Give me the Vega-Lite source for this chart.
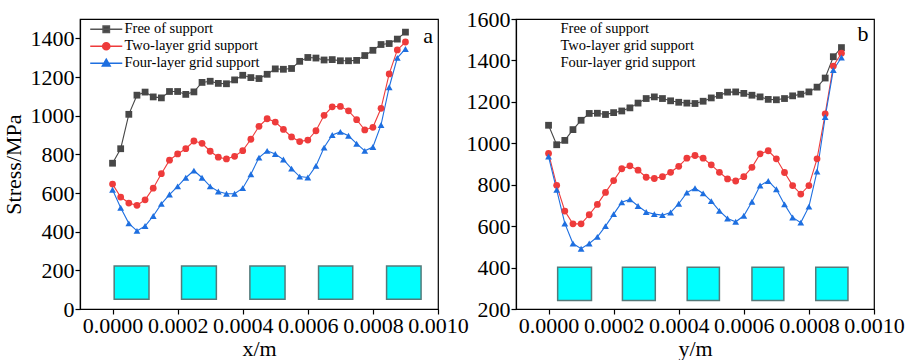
{
  "$schema": "https://vega.github.io/schema/vega-lite/v6.json",
  "autosize": {"type": "pad"},
  "padding": {"left": 1, "top": 7, "right": 0, "bottom": 0},
  "background": "white",
  "config": {
    "font": "Liberation Serif",
    "view": {"stroke": "black", "strokeWidth": 1.2},
    "axis": {"labelFont": "Liberation Serif", "labelFontSize": 22, "labelColor": "black", "titleFont": "Liberation Serif", "titleFontSize": 22, "titleFontWeight": "normal", "titleColor": "black", "domainColor": "black", "domainWidth": 1.2, "tickColor": "black", "tickSize": 5, "tickWidth": 1.2, "grid": false, "labelPadding": 1, "labelFlush": false, "labelOverlap": false},
    "legend": {"labelFont": "Liberation Serif", "labelFontSize": 14.5, "labelColor": "black"}
  },
  "datasets": {
    "left": [
      {"x": 0.0, "Free of support": 754, "Two-layer grid support": 646, "Four-layer grid support": 617},
      {"x": 0.000025, "Free of support": 829, "Two-layer grid support": 579, "Four-layer grid support": 524},
      {"x": 0.00005, "Free of support": 1007, "Two-layer grid support": 548, "Four-layer grid support": 443},
      {"x": 0.000075, "Free of support": 1106, "Two-layer grid support": 536, "Four-layer grid support": 404},
      {"x": 0.0001, "Free of support": 1122, "Two-layer grid support": 565, "Four-layer grid support": 429},
      {"x": 0.000125, "Free of support": 1097, "Two-layer grid support": 625, "Four-layer grid support": 481},
      {"x": 0.00015, "Free of support": 1092, "Two-layer grid support": 700, "Four-layer grid support": 544},
      {"x": 0.000175, "Free of support": 1125, "Two-layer grid support": 770, "Four-layer grid support": 592},
      {"x": 0.0002, "Free of support": 1125, "Two-layer grid support": 802, "Four-layer grid support": 634},
      {"x": 0.000225, "Free of support": 1110, "Two-layer grid support": 829, "Four-layer grid support": 679},
      {"x": 0.00025, "Free of support": 1123, "Two-layer grid support": 869, "Four-layer grid support": 716},
      {"x": 0.000275, "Free of support": 1172, "Two-layer grid support": 857, "Four-layer grid support": 679},
      {"x": 0.0003, "Free of support": 1178, "Two-layer grid support": 816, "Four-layer grid support": 634},
      {"x": 0.000325, "Free of support": 1167, "Two-layer grid support": 785, "Four-layer grid support": 608},
      {"x": 0.00035, "Free of support": 1165, "Two-layer grid support": 776, "Four-layer grid support": 596},
      {"x": 0.000375, "Free of support": 1185, "Two-layer grid support": 790, "Four-layer grid support": 596},
      {"x": 0.0004, "Free of support": 1209, "Two-layer grid support": 819, "Four-layer grid support": 625},
      {"x": 0.000425, "Free of support": 1197, "Two-layer grid support": 878, "Four-layer grid support": 697},
      {"x": 0.00045, "Free of support": 1192, "Two-layer grid support": 945, "Four-layer grid support": 783},
      {"x": 0.000475, "Free of support": 1214, "Two-layer grid support": 984, "Four-layer grid support": 818},
      {"x": 0.0005, "Free of support": 1242, "Two-layer grid support": 967, "Four-layer grid support": 802},
      {"x": 0.000525, "Free of support": 1240, "Two-layer grid support": 929, "Four-layer grid support": 773},
      {"x": 0.00055, "Free of support": 1244, "Two-layer grid support": 890, "Four-layer grid support": 726},
      {"x": 0.000575, "Free of support": 1281, "Two-layer grid support": 866, "Four-layer grid support": 685},
      {"x": 0.0006, "Free of support": 1301, "Two-layer grid support": 874, "Four-layer grid support": 680},
      {"x": 0.000625, "Free of support": 1298, "Two-layer grid support": 922, "Four-layer grid support": 740},
      {"x": 0.00065, "Free of support": 1288, "Two-layer grid support": 1002, "Four-layer grid support": 835},
      {"x": 0.000675, "Free of support": 1290, "Two-layer grid support": 1046, "Four-layer grid support": 900},
      {"x": 0.0007, "Free of support": 1284, "Two-layer grid support": 1048, "Four-layer grid support": 916},
      {"x": 0.000725, "Free of support": 1284, "Two-layer grid support": 1025, "Four-layer grid support": 896},
      {"x": 0.00075, "Free of support": 1286, "Two-layer grid support": 979, "Four-layer grid support": 855},
      {"x": 0.000775, "Free of support": 1311, "Two-layer grid support": 926, "Four-layer grid support": 818},
      {"x": 0.0008, "Free of support": 1338, "Two-layer grid support": 940, "Four-layer grid support": 838},
      {"x": 0.000825, "Free of support": 1368, "Two-layer grid support": 1038, "Four-layer grid support": 952},
      {"x": 0.00085, "Free of support": 1373, "Two-layer grid support": 1216, "Four-layer grid support": 1147},
      {"x": 0.000875, "Free of support": 1396, "Two-layer grid support": 1340, "Four-layer grid support": 1299},
      {"x": 0.0009, "Free of support": 1432, "Two-layer grid support": 1381, "Four-layer grid support": 1345}
    ],
    "right": [
      {"x": 0.0, "Free of support": 1087, "Two-layer grid support": 951, "Four-layer grid support": 936},
      {"x": 0.000025, "Free of support": 993, "Two-layer grid support": 797, "Four-layer grid support": 775},
      {"x": 0.00005, "Free of support": 1014, "Two-layer grid support": 673, "Four-layer grid support": 613},
      {"x": 0.000075, "Free of support": 1066, "Two-layer grid support": 611, "Four-layer grid support": 516},
      {"x": 0.0001, "Free of support": 1111, "Two-layer grid support": 611, "Four-layer grid support": 491},
      {"x": 0.000125, "Free of support": 1144, "Two-layer grid support": 655, "Four-layer grid support": 516},
      {"x": 0.00015, "Free of support": 1145, "Two-layer grid support": 705, "Four-layer grid support": 548},
      {"x": 0.000175, "Free of support": 1139, "Two-layer grid support": 763, "Four-layer grid support": 600},
      {"x": 0.0002, "Free of support": 1148, "Two-layer grid support": 820, "Four-layer grid support": 658},
      {"x": 0.000225, "Free of support": 1156, "Two-layer grid support": 877, "Four-layer grid support": 715},
      {"x": 0.00025, "Free of support": 1171, "Two-layer grid support": 891, "Four-layer grid support": 729},
      {"x": 0.000275, "Free of support": 1194, "Two-layer grid support": 870, "Four-layer grid support": 697},
      {"x": 0.0003, "Free of support": 1216, "Two-layer grid support": 836, "Four-layer grid support": 668},
      {"x": 0.000325, "Free of support": 1224, "Two-layer grid support": 830, "Four-layer grid support": 658},
      {"x": 0.00035, "Free of support": 1216, "Two-layer grid support": 839, "Four-layer grid support": 653},
      {"x": 0.000375, "Free of support": 1205, "Two-layer grid support": 860, "Four-layer grid support": 666},
      {"x": 0.0004, "Free of support": 1198, "Two-layer grid support": 889, "Four-layer grid support": 708},
      {"x": 0.000425, "Free of support": 1194, "Two-layer grid support": 928, "Four-layer grid support": 762},
      {"x": 0.00045, "Free of support": 1192, "Two-layer grid support": 941, "Four-layer grid support": 783},
      {"x": 0.000475, "Free of support": 1203, "Two-layer grid support": 928, "Four-layer grid support": 758},
      {"x": 0.0005, "Free of support": 1219, "Two-layer grid support": 896, "Four-layer grid support": 721},
      {"x": 0.000525, "Free of support": 1231, "Two-layer grid support": 860, "Four-layer grid support": 674},
      {"x": 0.00055, "Free of support": 1247, "Two-layer grid support": 828, "Four-layer grid support": 637},
      {"x": 0.000575, "Free of support": 1248, "Two-layer grid support": 818, "Four-layer grid support": 621},
      {"x": 0.0006, "Free of support": 1241, "Two-layer grid support": 839, "Four-layer grid support": 650},
      {"x": 0.000625, "Free of support": 1232, "Two-layer grid support": 884, "Four-layer grid support": 718},
      {"x": 0.00065, "Free of support": 1224, "Two-layer grid support": 949, "Four-layer grid support": 796},
      {"x": 0.000675, "Free of support": 1212, "Two-layer grid support": 964, "Four-layer grid support": 818},
      {"x": 0.0007, "Free of support": 1210, "Two-layer grid support": 925, "Four-layer grid support": 778},
      {"x": 0.000725, "Free of support": 1216, "Two-layer grid support": 859, "Four-layer grid support": 705},
      {"x": 0.00075, "Free of support": 1229, "Two-layer grid support": 796, "Four-layer grid support": 642},
      {"x": 0.000775, "Free of support": 1237, "Two-layer grid support": 755, "Four-layer grid support": 617},
      {"x": 0.0008, "Free of support": 1248, "Two-layer grid support": 796, "Four-layer grid support": 694},
      {"x": 0.000825, "Free of support": 1271, "Two-layer grid support": 925, "Four-layer grid support": 864},
      {"x": 0.00085, "Free of support": 1315, "Two-layer grid support": 1142, "Four-layer grid support": 1127},
      {"x": 0.000875, "Free of support": 1418, "Two-layer grid support": 1373, "Four-layer grid support": 1354},
      {"x": 0.0009, "Free of support": 1462, "Two-layer grid support": 1435, "Four-layer grid support": 1414}
    ],
    "squaresLeft": [
      {"x1": 0.000005, "x2": 0.000112, "y1": 50, "y2": 223},
      {"x1": 0.000212, "x2": 0.000319, "y1": 50, "y2": 223},
      {"x1": 0.000422, "x2": 0.00053, "y1": 50, "y2": 223},
      {"x1": 0.000633, "x2": 0.000738, "y1": 50, "y2": 223},
      {"x1": 0.000842, "x2": 0.000948, "y1": 50, "y2": 223}
    ],
    "squaresRight": [
      {"x1": 0.000028, "x2": 0.000132, "y1": 241, "y2": 402},
      {"x1": 0.000227, "x2": 0.000328, "y1": 241, "y2": 402},
      {"x1": 0.000426, "x2": 0.000525, "y1": 241, "y2": 402},
      {"x1": 0.000625, "x2": 0.000723, "y1": 241, "y2": 402},
      {"x1": 0.000821, "x2": 0.00092, "y1": 241, "y2": 402}
    ],
    "labelA": [{"x": 0.00097, "y": 1410, "t": "a"}],
    "labelB": [{"x": 0.000966, "y": 1530, "t": "b"}]
  },
  "hconcat": [
    {
      "width": 358,
      "height": 290,
      "resolve": {"scale": {"color": "independent", "shape": "independent", "stroke": "independent"}},
      "layer": [
        {
          "data": {"name": "squaresLeft"},
          "mark": {"type": "rect", "fill": "#00FFFF", "stroke": "#557a7a", "strokeWidth": 1.5},
          "encoding": {
            "x": {"field": "x1", "type": "quantitative", "scale": {"domain": [-0.0001, 0.001], "nice": false, "zero": false}, "axis": {"values": [0, 0.0002, 0.0004, 0.0006, 0.0008, 0.001], "format": ".4f", "title": "x/m", "titlePadding": 2, "labelFont": "Liberation Serif", "titleFont": "Liberation Serif"}},
            "x2": {"field": "x2"},
            "y": {"field": "y1", "type": "quantitative", "scale": {"domain": [0, 1500], "nice": false}, "axis": {"values": [0, 200, 400, 600, 800, 1000, 1200, 1400], "format": "d", "title": "Stress/MPa", "titlePadding": 5, "labelFont": "Liberation Serif", "titleFont": "Liberation Serif"}},
            "y2": {"field": "y2"}
          }
        },
        {
          "data": {"name": "left"},
          "transform": [{"fold": ["Free of support", "Two-layer grid support", "Four-layer grid support"], "as": ["series", "stress"]}],
          "mark": {"type": "line", "strokeWidth": 1.1},
          "encoding": {
            "x": {"field": "x", "type": "quantitative"},
            "y": {"field": "stress", "type": "quantitative"},
            "color": {"field": "series", "type": "nominal", "scale": {"domain": ["Free of support", "Two-layer grid support", "Four-layer grid support"], "range": ["#474747", "#EE3B3B", "#1E6FE0"]}, "legend": null}
          }
        },
        {
          "data": {"name": "left"},
          "transform": [{"fold": ["Free of support", "Two-layer grid support", "Four-layer grid support"], "as": ["series", "stress"]}],
          "mark": {"type": "point", "filled": true, "opacity": 1, "size": 46},
          "encoding": {
            "x": {"field": "x", "type": "quantitative"},
            "y": {"field": "stress", "type": "quantitative"},
            "color": {"field": "series", "type": "nominal", "scale": {"domain": ["Free of support", "Two-layer grid support", "Four-layer grid support"], "range": ["#474747", "#EE3B3B", "#1E6FE0"]}, "legend": null},
            "shape": {"field": "series", "type": "nominal", "scale": {"domain": ["Free of support", "Two-layer grid support", "Four-layer grid support"], "range": ["square", "circle", "triangle-up"]}, "legend": null}
          }
        },
        {
          "data": {"name": "left"},
          "transform": [{"fold": ["Free of support", "Two-layer grid support", "Four-layer grid support"], "as": ["series", "stress"]}, {"filter": "false"}],
          "mark": {"type": "point", "filled": true, "opacity": 1, "strokeWidth": 1.2},
          "encoding": {
            "color": {"field": "series", "type": "nominal", "scale": {"domain": ["Free of support", "Two-layer grid support", "Four-layer grid support"], "range": ["#474747", "#EE3B3B", "#1E6FE0"]}, "legend": {"title": null, "orient": "none", "legendX": 19, "legendY": 3, "symbolSize": 144, "labelOffset": 11, "rowPadding": 2, "padding": 0}},
            "stroke": {"field": "series", "type": "nominal", "scale": {"domain": ["Free of support", "Two-layer grid support", "Four-layer grid support"], "range": ["#555555", "#EE3B3B", "#1E6FE0"]}, "legend": {"title": null, "orient": "none", "legendX": 19, "legendY": 3, "symbolSize": 144, "labelOffset": 11, "rowPadding": 2, "padding": 0}},
            "shape": {"field": "series", "type": "nominal", "scale": {"domain": ["Free of support", "Two-layer grid support", "Four-layer grid support"], "range": ["M-2.67,0H2.67M-0.53,-0.53H0.53V0.53H-0.53Z", "M-2.67,0H2.67M-0.6,0A0.6,0.6,0,1,0,0.6,0A0.6,0.6,0,1,0,-0.6,0Z", "M-2.67,0H2.67M0,-0.68L0.65,0.45H-0.65Z"]}, "legend": {"title": null, "orient": "none", "legendX": 19, "legendY": 3, "symbolSize": 144, "labelOffset": 11, "rowPadding": 2, "padding": 0}}
          }
        },
        {
          "data": {"name": "labelA"},
          "mark": {"type": "text", "fontSize": 22, "font": "Liberation Serif", "color": "black", "align": "center", "baseline": "middle"},
          "encoding": {
            "x": {"field": "x", "type": "quantitative"},
            "y": {"field": "y", "type": "quantitative"},
            "text": {"field": "t"}
          }
        }
      ]
    },
    {
      "width": 358,
      "height": 290,
      "resolve": {"scale": {"color": "independent", "shape": "independent", "stroke": "independent"}},
      "layer": [
        {
          "data": {"name": "squaresRight"},
          "mark": {"type": "rect", "fill": "#00FFFF", "stroke": "#557a7a", "strokeWidth": 1.5},
          "encoding": {
            "x": {"field": "x1", "type": "quantitative", "scale": {"domain": [-0.0001, 0.001], "nice": false, "zero": false}, "axis": {"values": [0, 0.0002, 0.0004, 0.0006, 0.0008, 0.001], "format": ".4f", "title": "y/m", "titlePadding": 2, "labelFont": "Liberation Serif", "titleFont": "Liberation Serif"}},
            "x2": {"field": "x2"},
            "y": {"field": "y1", "type": "quantitative", "scale": {"domain": [200, 1600], "nice": false, "zero": false}, "axis": {"values": [200, 400, 600, 800, 1000, 1200, 1400, 1600], "format": "d", "title": null, "labelFont": "Liberation Serif"}},
            "y2": {"field": "y2"}
          }
        },
        {
          "data": {"name": "right"},
          "transform": [{"fold": ["Free of support", "Two-layer grid support", "Four-layer grid support"], "as": ["series", "stress"]}],
          "mark": {"type": "line", "strokeWidth": 1.1},
          "encoding": {
            "x": {"field": "x", "type": "quantitative"},
            "y": {"field": "stress", "type": "quantitative"},
            "color": {"field": "series", "type": "nominal", "scale": {"domain": ["Free of support", "Two-layer grid support", "Four-layer grid support"], "range": ["#474747", "#EE3B3B", "#1E6FE0"]}, "legend": null}
          }
        },
        {
          "data": {"name": "right"},
          "transform": [{"fold": ["Free of support", "Two-layer grid support", "Four-layer grid support"], "as": ["series", "stress"]}],
          "mark": {"type": "point", "filled": true, "opacity": 1, "size": 46},
          "encoding": {
            "x": {"field": "x", "type": "quantitative"},
            "y": {"field": "stress", "type": "quantitative"},
            "color": {"field": "series", "type": "nominal", "scale": {"domain": ["Free of support", "Two-layer grid support", "Four-layer grid support"], "range": ["#474747", "#EE3B3B", "#1E6FE0"]}, "legend": {"title": null, "orient": "none", "legendX": 19, "legendY": 3, "symbolSize": 144, "labelOffset": 11, "rowPadding": 2, "padding": 0, "symbolOpacity": 0, "symbolStrokeWidth": 0}},
            "shape": {"field": "series", "type": "nominal", "scale": {"domain": ["Free of support", "Two-layer grid support", "Four-layer grid support"], "range": ["square", "circle", "triangle-up"]}, "legend": {"title": null, "orient": "none", "legendX": 19, "legendY": 3, "symbolSize": 144, "labelOffset": 11, "rowPadding": 2, "padding": 0, "symbolOpacity": 0, "symbolStrokeWidth": 0}}
          }
        },
        {
          "data": {"name": "labelB"},
          "mark": {"type": "text", "fontSize": 22, "font": "Liberation Serif", "color": "black", "align": "center", "baseline": "middle"},
          "encoding": {
            "x": {"field": "x", "type": "quantitative"},
            "y": {"field": "y", "type": "quantitative"},
            "text": {"field": "t"}
          }
        }
      ]
    }
  ],
  "bounds": "flush",
  "spacing": 78
}
